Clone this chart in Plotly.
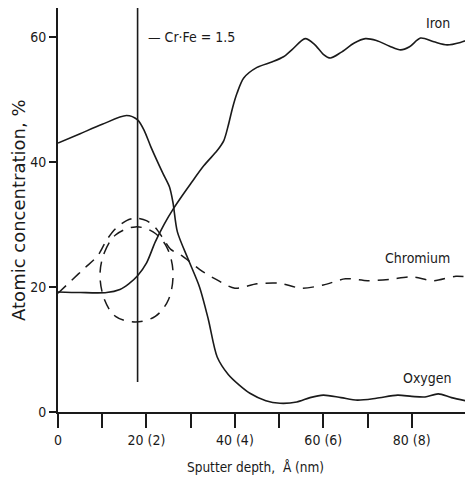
import plotly.graph_objects as go

# ---- data ----
iron_x = [0, 5, 11, 14, 16, 18, 20, 22, 24, 26, 28, 30, 33, 36, 37.5, 38.5, 39.5, 40.5, 42, 45, 48.5, 51, 53, 55.9, 58, 60, 61.6, 64, 67, 69.5, 72, 75, 77.5, 79.5, 82, 85, 88, 91, 93.4]
iron_y = [19.2, 19.1, 19.1, 19.6, 20.5, 21.8, 23.8, 27.2, 30.0, 32.4, 34.5, 36.5, 39.4, 41.8, 43.4, 45.8, 48.7, 51.0, 53.4, 55.1, 56.0, 56.8, 58.0, 59.7, 58.8, 57.2, 56.6, 57.5, 59.0, 59.7, 59.4, 58.5, 57.9, 58.4, 59.8, 59.2, 58.7, 59.1, 59.7]

oxygen_x = [0, 5, 10, 15.5, 18, 19.5, 21, 23.7, 25.2, 26.0, 27.0, 29.4, 32.0, 34.0, 36.0, 38.5, 41.0, 43.4, 47, 50.2, 54, 57, 60, 64, 67.7, 72, 76.8, 80, 83, 86, 89, 93.4]
oxygen_y = [43.0, 44.5, 46.0, 47.4, 46.7, 45.0, 42.4, 38.2, 36.0, 33.5, 28.8, 24.5, 20.0, 14.8, 8.8, 6.0, 4.3, 3.0, 1.8, 1.4, 1.6, 2.3, 2.7, 2.3, 1.9, 2.2, 2.7, 2.5, 2.4, 2.9, 2.3, 1.6]

chromium_x = [0, 3, 6, 9, 11, 13, 15.5, 17.5, 20, 22, 24, 25.5, 28, 32, 35, 40, 45, 50, 55, 60, 65, 70, 75, 80, 85, 90, 93.4]
chromium_y = [19.0, 21.0, 23.0, 25.0, 27.5, 29.3, 30.6, 31.0, 30.6, 29.5, 27.5, 26.0, 25.0, 22.8, 21.5, 19.8, 20.5, 20.6, 19.8, 20.3, 21.3, 21.0, 21.2, 21.6, 21.0, 21.7, 21.5]

# dashed loop around the Cr:Fe = 1.5 depth
loop_x = [9.5, 10.5, 13, 17.5, 21.5, 24.5, 26, 25, 22, 17.5, 13, 10.5, 9.5]
loop_y = [22.0, 25.5, 28.3, 29.6, 28.8, 26.5, 22.5, 18.0, 15.3, 14.4, 15.3, 18.0, 22.0]

ratio_depth = 18
ratio_line_y = [4.8, 64.6]
ratio_label = "\u2014 Cr\u00b7Fe = 1.5"

x_tick_vals = [0, 10, 20, 30, 40, 50, 60, 70, 80]
x_tick_text = ["0", "", "20 (2)", "", "40 (4)", "", "60 (6)", "", "80 (8)"]
y_tick_vals = [0, 20, 40, 60]
y_tick_text = ["0", "20", "40", "60"]

series_labels = [("Iron", 86, 62.2), ("Chromium", 81.2, 24.6), ("Oxygen", 83.5, 5.4)]

# ---- figure ----
LINE = "#1a1a1a"
FONT = "DejaVu Sans Condensed, Liberation Sans Narrow, Arial Narrow, sans-serif"

fig = go.Figure()
fig.add_trace(go.Scatter(x=iron_x, y=iron_y, mode="lines", line=dict(color=LINE, width=1.6, shape="spline", smoothing=0.8), showlegend=False, cliponaxis=False))
fig.add_trace(go.Scatter(x=oxygen_x, y=oxygen_y, mode="lines", line=dict(color=LINE, width=1.6, shape="spline", smoothing=0.8), showlegend=False))
fig.add_trace(go.Scatter(x=chromium_x, y=chromium_y, mode="lines", line=dict(color=LINE, width=1.5, shape="spline", smoothing=0.8, dash="11px,8px"), showlegend=False))
fig.add_trace(go.Scatter(x=loop_x, y=loop_y, mode="lines", line=dict(color=LINE, width=1.5, shape="spline", smoothing=1.0, dash="11px,8px"), showlegend=False))
fig.add_trace(go.Scatter(x=[ratio_depth, ratio_depth], y=ratio_line_y, mode="lines", line=dict(color=LINE, width=1.6), showlegend=False))

fig.add_annotation(x=ratio_depth + 2, y=60, text=ratio_label, showarrow=False, xanchor="left", yanchor="middle",
                   font=dict(family=FONT, size=14, color=LINE))
for name, lx, ly in series_labels:
    fig.add_annotation(x=lx, y=ly, text=name, showarrow=False, xanchor="center", yanchor="middle",
                       font=dict(family=FONT, size=14, color=LINE))

# axis titles placed as paper annotations
fig.add_annotation(xref="paper", yref="paper", x=-0.097, y=0.5, text="Atomic concentration, %", textangle=-90,
                   showarrow=False, xanchor="center", yanchor="middle",
                   font=dict(family="DejaVu Sans, sans-serif", size=18, color=LINE))
fig.add_annotation(xref="paper", yref="paper", x=0.479, y=-0.136, text="Sputter depth,  \u00c5 (nm)",
                   showarrow=False, xanchor="center", yanchor="middle",
                   font=dict(family=FONT, size=13.5, color=LINE))

# the page body adds an 8px margin, so the figure is 8px smaller than the window
fig.update_layout(
    width=465, height=471,
    margin=dict(l=50, r=2, t=0, b=67),
    paper_bgcolor="white", plot_bgcolor="white",
    font=dict(family=FONT, size=14, color=LINE),
    xaxis=dict(range=[0, 93.4], tickvals=x_tick_vals, ticktext=x_tick_text, ticks="outside", ticklen=14, tickwidth=1.5,
               tickcolor=LINE, showline=True, linecolor=LINE, linewidth=2, showgrid=False, zeroline=False,
               automargin=False, tickfont=dict(family=FONT, size=14)),
    yaxis=dict(range=[0, 64.6], tickvals=y_tick_vals, ticktext=y_tick_text, ticks="outside", ticklen=7, tickwidth=1.5,
               tickcolor=LINE, showline=True, linecolor=LINE, linewidth=2, showgrid=False, zeroline=False,
               automargin=False, tickfont=dict(family=FONT, size=14)),
)

fig.write_html("out.html")
